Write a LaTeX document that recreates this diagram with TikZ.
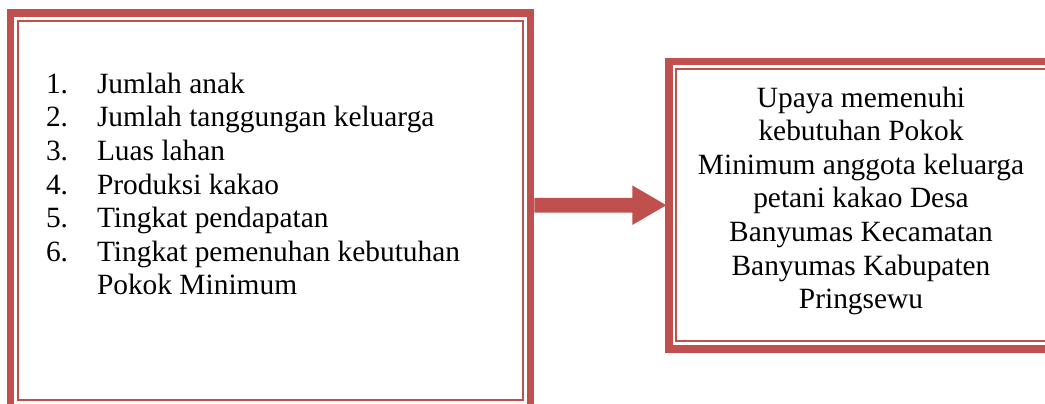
\documentclass[tikz,border=0pt]{standalone}
\usepackage{fontspec}
\setmainfont{Liberation Serif}
\usetikzlibrary{calc}
\definecolor{boxred}{HTML}{C0504D}
\tikzset{
  thickborder/.style={draw=boxred, line width=7.6pt, inner sep=0pt, outer sep=0pt, rectangle},
  thinborder/.style={draw=boxred, line width=2pt},
  txt/.style={inner sep=0pt, outer sep=0pt, font=\fontsize{29.4pt}{33.6pt}\selectfont, text=black},
}
\begin{document}
\begin{tikzpicture}[x=1pt, y=-1pt]
\useasboundingbox (0,0) rectangle (1045,404);
\fill[white] (0,0) rectangle (1045,404);
\clip (0,0) rectangle (1045,404);
% left box
\node[thickborder, minimum width=520pt, minimum height=395pt] (L) at (270.5,210.5) {};
\draw[thinborder] ([shift={(7.8pt,-7.8pt)}]L.north west) rectangle ([shift={(-7.8pt,7.8pt)}]L.south east);
% right box
\node[thickborder, minimum width=387pt, minimum height=287.6pt] (R) at (862.3,205.2) {};
\draw[thinborder] ([shift={(7.2pt,-7.8pt)}]R.north west) rectangle ([shift={(-7.2pt,8.2pt)}]R.south east);
% block arrow
\coordinate (as) at ($(L.east |- R.west)+(3.8pt,0)$);
\coordinate (at) at ($(R.west)+(-2.5pt,0)$);
\fill[boxred] ($(as)+(0,7.3pt)$) -- ($(at)+(-34pt,7.3pt)$) -- ($(at)+(-34pt,19.8pt)$) -- (at)
  -- ($(at)+(-34pt,-19.8pt)$) -- ($(at)+(-34pt,-7.3pt)$) -- ($(as)+(0,-7.3pt)$) -- cycle;
% left list
\node[txt, anchor=base west] (n1) at (46,93.3) {1.};
\node[txt, anchor=base west] (t1) at (97,93.3) {Jumlah anak};
\node[txt, anchor=base west] (n2) at (46,126.9) {2.};
\node[txt, anchor=base west] (t2) at (97,126.9) {Jumlah tanggungan keluarga};
\node[txt, anchor=base west] (n3) at (46,160.5) {3.};
\node[txt, anchor=base west] (t3) at (97,160.5) {Luas lahan};
\node[txt, anchor=base west] (n4) at (46,194.1) {4.};
\node[txt, anchor=base west] (t4) at (97,194.1) {Produksi kakao};
\node[txt, anchor=base west] (n5) at (46,227.7) {5.};
\node[txt, anchor=base west] (t5) at (97,227.7) {Tingkat pendapatan};
\node[txt, anchor=base west] (n6) at (46,261.3) {6.};
\node[txt, anchor=base west] (t6) at (97,261.3) {Tingkat pemenuhan kebutuhan};
\node[txt, anchor=base west] (t7) at (97,294.9) {Pokok Minimum};
% right text
\node[txt, anchor=base] (r1) at (861,107) {Upaya memenuhi};
\node[txt, anchor=base] (r2) at (861,140.6) {kebutuhan Pokok};
\node[txt, anchor=base] (r3) at (861,174.2) {Minimum anggota keluarga};
\node[txt, anchor=base] (r4) at (861,207.8) {petani kakao Desa};
\node[txt, anchor=base] (r5) at (861,241.4) {Banyumas Kecamatan};
\node[txt, anchor=base] (r6) at (861,275) {Banyumas Kabupaten};
\node[txt, anchor=base] (r7) at (861,308.6) {Pringsewu};
\end{tikzpicture}
\end{document}
